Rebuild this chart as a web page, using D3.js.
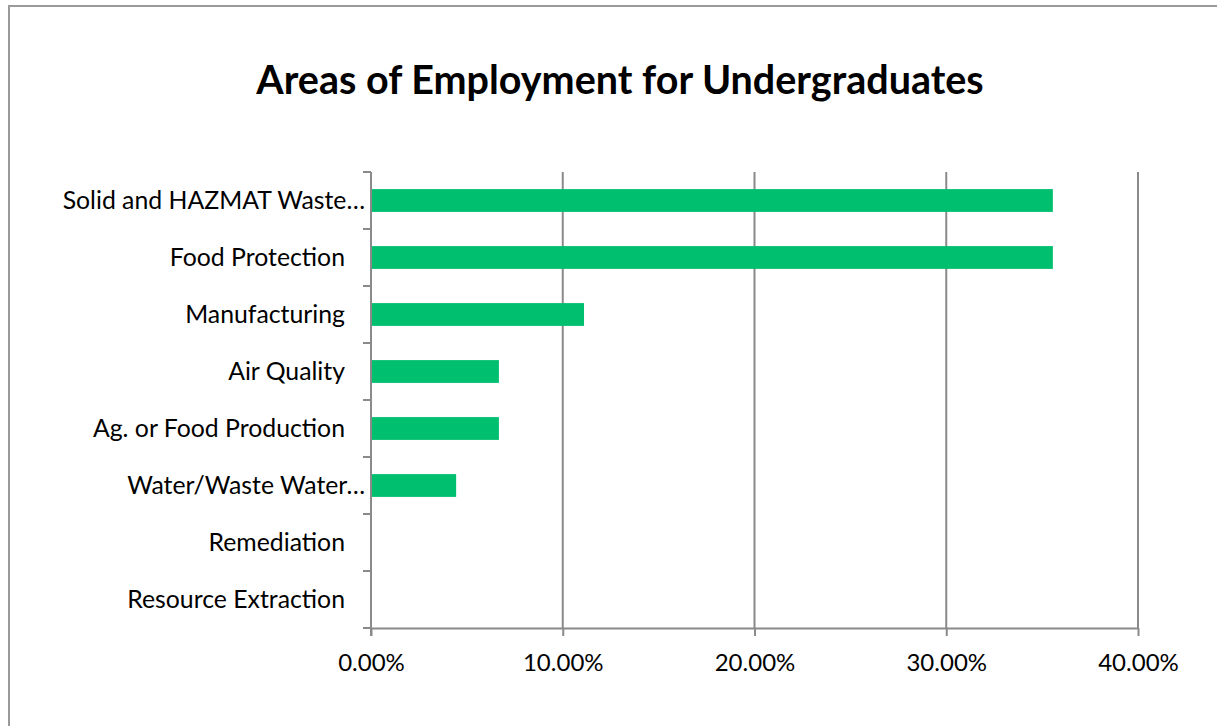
<!DOCTYPE html>
<html>
<head>
<meta charset="utf-8">
<script src="https://cdn.jsdelivr.net/npm/d3@7"></script>
<style>
  html, body { margin: 0; padding: 0; background: #fff; }
  svg { display: block; }
  text { font-family: Lato, "Open Sans", sans-serif; fill: #000; }
</style>
</head>
<body>
<svg id="chart" width="1217" height="726"></svg>
<script>
// Employment areas (top to bottom) and their share of undergraduates
const categories = [
  "Solid and HAZMAT Waste\u2026",
  "Food Protection",
  "Manufacturing",
  "Air Quality",
  "Ag. or Food Production",
  "Water/Waste Water\u2026",
  "Remediation",
  "Resource Extraction"
];
const shares = [0.3556, 0.3556, 0.1111, 0.0667, 0.0667, 0.0444, 0, 0];
const tickValues = [0, 0.1, 0.2, 0.3, 0.4];
const chartTitle = "Areas of Employment for Undergraduates";

const svg = d3.select("#chart");
const plot = { left: 371, right: 1138, top: 172, bottom: 628 };
const gridColor = "#8a8a8a";
const barColor = "#00bf6f";

// outer frame
svg.append("rect")
  .attr("x", 9).attr("y", 6)
  .attr("width", 1222).attr("height", 760)
  .attr("fill", "#fff")
  .attr("stroke", "#9a9a9a")
  .attr("stroke-width", 2);

// title
svg.append("text")
  .attr("x", 620).attr("y", 94)
  .attr("text-anchor", "middle")
  .style("font-size", "39.5px")
  .style("font-weight", "700")
  .text(chartTitle);

const x = d3.scaleLinear().domain([0, 0.4]).range([plot.left, plot.right]);
const y = d3.scaleBand().domain(categories)
  .range([plot.top, plot.bottom])
  .paddingInner(0.6).paddingOuter(0.3);

// vertical gridlines
svg.append("g").selectAll("line")
  .data(tickValues.slice(1))
  .join("line")
  .attr("x1", d => x(d)).attr("x2", d => x(d))
  .attr("y1", plot.top).attr("y2", plot.bottom)
  .attr("stroke", gridColor).attr("stroke-width", 2);

// bars
svg.append("g").selectAll("rect")
  .data(categories.map((c, i) => ({ c, v: shares[i] })).filter(d => d.v > 0))
  .join("rect")
  .attr("x", x(0) + 1)
  .attr("y", d => y(d.c))
  .attr("width", d => x(d.v) - x(0) - 1)
  .attr("height", y.bandwidth())
  .attr("fill", barColor);

// x axis
const xAxis = d3.axisBottom(x)
  .tickValues(tickValues)
  .tickFormat(d3.format(".2%"))
  .tickSizeInner(8).tickSizeOuter(0).tickPadding(18);
const gx = svg.append("g")
  .attr("transform", `translate(0,${plot.bottom})`)
  .call(xAxis);
gx.select(".domain").attr("stroke", gridColor).attr("stroke-width", 2);
gx.selectAll(".tick line").attr("stroke", gridColor).attr("stroke-width", 2);
gx.selectAll(".tick text")
  .style("font-family", "Lato, 'Open Sans', sans-serif")
  .style("font-size", "24px")
  .attr("fill", "#000");

// y axis: ticks on category boundaries
const boundaries = d3.range(categories.length + 1)
  .map(i => plot.top + i * y.step());
const gy = svg.append("g");
gy.append("line")
  .attr("x1", plot.left).attr("x2", plot.left)
  .attr("y1", plot.top).attr("y2", plot.bottom + 8)
  .attr("stroke", gridColor).attr("stroke-width", 2);
gy.selectAll("line.tk")
  .data(boundaries)
  .join("line")
  .attr("class", "tk")
  .attr("x1", plot.left - 8).attr("x2", plot.left)
  .attr("y1", d => d).attr("y2", d => d)
  .attr("stroke", gridColor).attr("stroke-width", 2);
// truncated labels run up to the axis; full labels keep a trailing gap
gy.selectAll("text")
  .data(categories)
  .join("text")
  .attr("x", d => d.endsWith("\u2026") ? plot.left - 6 : plot.left - 26)
  .attr("y", d => y(d) + y.bandwidth() / 2)
  .attr("dy", "0.35em")
  .attr("text-anchor", "end")
  .style("font-size", "24.8px")
  .text(d => d);
</script>
</body>
</html>
